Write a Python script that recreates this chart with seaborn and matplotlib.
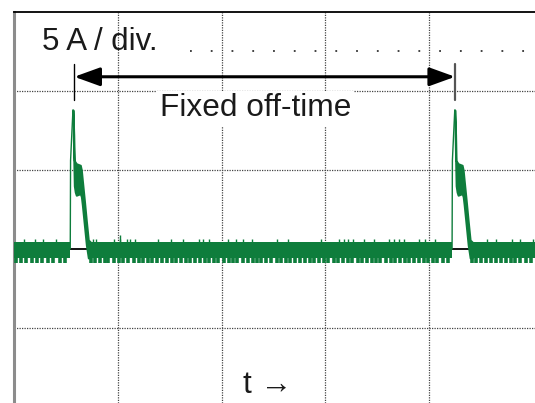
import numpy as np
import pandas as pd
import seaborn as sns
import matplotlib
matplotlib.use("Agg")
import matplotlib.pyplot as plt

# time in divisions, current in A (5 A / div)
pulse_start = [0.542, 4.221]
rise_t = [0.0, 0.003, 0.026]
rise_i = [0.0, 5.6, 8.8]
fall_t = [0.026, 0.034, 0.039, 0.048, 0.058, 0.097, 0.107, 0.116, 0.136, 0.155, 0.174, 0.194]
fall_hi = [8.8, 7.2, 5.6, 5.5, 5.4, 5.3, 5.0, 4.4, 3.1, 1.8, 0.57, 0.44]
fall_lo = [8.5, 5.6, 4.0, 3.6, 3.4, 3.5, 3.3, 2.8, 1.5, 0.25, -0.57, -0.57]
band_hi, band_lo = 0.44, -0.57
tooth_lo, tick_hi = -0.89, 0.63

down_teeth = [0.02, 0.07, 0.12, 0.17, 0.22, 0.27, 0.33, 0.38, 0.44, 0.49,
              0.74, 0.78, 0.83, 0.88, 0.91, 0.96, 1.01, 1.05, 1.10, 1.16, 1.20, 1.24,
              1.29, 1.33, 1.38, 1.43, 1.47, 1.52, 1.56, 1.61, 1.66, 1.70, 1.74, 1.79,
              1.84, 1.88, 1.93, 1.97, 2.02, 2.07, 2.11, 2.15, 2.21, 2.25, 2.30, 2.34,
              2.38, 2.43, 2.48, 2.53, 2.57, 2.62, 2.66, 2.71, 2.76, 2.80, 2.85, 2.89,
              2.94, 2.99, 3.03, 3.08, 3.12, 3.17, 3.22, 3.26, 3.31, 3.35, 3.40, 3.45,
              3.49, 3.53, 3.58, 3.63, 3.67, 3.72, 3.77, 3.81, 3.85, 3.90, 3.95, 3.99,
              4.04, 4.08, 4.13, 4.18,
              4.41, 4.45, 4.50, 4.55, 4.60, 4.64, 4.69, 4.74, 4.79, 4.83, 4.88, 4.93, 4.98]
up_ticks = [0.10, 0.20, 0.28, 0.40,
            0.76, 0.79, 0.96, 1.02, 1.09, 1.12, 1.17, 1.39, 1.51, 1.63, 1.78, 1.82,
            1.88, 2.06, 2.14, 2.21, 2.29, 2.53, 2.64, 2.96, 3.13, 3.18, 3.22, 3.27,
            3.37, 3.47, 3.61, 3.66, 3.71, 3.76, 3.90, 3.96, 4.06,
            4.56, 4.64, 4.80, 4.88, 5.00]
up_tall = [1.02]

green = "#0e7d3c"
x_max, y_min, y_max = 5.02, -9.75, 15.0

sns.set_theme(style="white")
plt.rcParams["font.family"] = ["Liberation Sans", "DejaVu Sans"]

fig = plt.figure(figsize=(5.35, 4.03), dpi=100)
ax = fig.add_axes([14 / 535, 0, 1 - 14 / 535, 1 - 12 / 403])
ax.set_xlim(0, x_max)
ax.set_ylim(y_min, y_max)

# graticule
dot = (0, (1, 1))
for gx in [1, 2, 3, 4]:
    ax.axvline(gx, color="#444444", lw=0.9, ls=dot, zorder=1)
for gy in [-5, 5, 10]:
    ax.axhline(gy, color="#444444", lw=0.9, ls=dot, zorder=1)
ax.plot([1.7, x_max], [12.5, 12.5], color="#333333", lw=1.3, ls=(0, (1, 10.5)), zorder=1)
ax.axhline(0, color="black", lw=1.3, zorder=2)

# baseline noise band
edges = [0.0]
for s in pulse_start:
    edges += [s, s + fall_t[-2]]
edges.append(x_max)
for a, b in zip(edges[0::2], edges[1::2]):
    ax.fill_between([a, b], band_lo, band_hi, color=green, lw=0, zorder=3)
ax.vlines(down_teeth, tooth_lo, band_lo + 0.1, color=green, lw=2.6, zorder=3)
ax.vlines(up_ticks, band_hi - 0.1, tick_hi, color=green, lw=1.0, zorder=3)
ax.vlines(up_tall, band_hi, 0.9, color=green, lw=1.0, zorder=3)

# current pulses
for s in pulse_start:
    rise = pd.DataFrame({"t": np.array(rise_t) + s, "i": rise_i})
    sns.lineplot(data=rise, x="t", y="i", color=green, lw=1.0, ax=ax, zorder=4, sort=False)
    ax.fill_between(np.array(fall_t) + s, fall_lo, fall_hi, color=green, lw=1.4,
                    edgecolor=green, zorder=4)

# fixed off-time marker
t_a, t_b = 0.581, 4.25
ax.plot([t_a, t_a], [9.4, 11.7], color="black", lw=1.0, zorder=5)
ax.plot([t_b, t_b], [9.4, 11.7], color="#555555", lw=1.6, zorder=5)
ax.annotate("", xy=(t_b, 10.9), xytext=(t_a, 10.9),
            arrowprops=dict(arrowstyle="<|-|>,head_length=1.3,head_width=0.47",
                            lw=2.2, color="black", shrinkA=0, shrinkB=0), zorder=5)

ax.text(0.27, 13.1, "5 A / div.", fontsize=22.5, va="center", ha="left", color="#1a1a1a", zorder=6)
ax.text(1.405, 8.9, "Fixed off-time", fontsize=22.8, va="center", ha="left", color="#1a1a1a",
        bbox=dict(fc="white", ec="none", pad=2), zorder=6)
ax.text(2.21, -8.6, "t \u2192", fontsize=22.8, va="center", ha="left", color="#1a1a1a", zorder=6)

ax.set_xticks([])
ax.set_yticks([])
ax.set_xlabel("")
ax.set_ylabel("")
for side in ["right", "bottom"]:
    ax.spines[side].set_visible(False)
ax.spines["top"].set_color("black")
ax.spines["top"].set_linewidth(1.3)
ax.spines["left"].set_color("#8c8c8c")
ax.spines["left"].set_linewidth(2.2)

fig.savefig("out.png", dpi=100)
